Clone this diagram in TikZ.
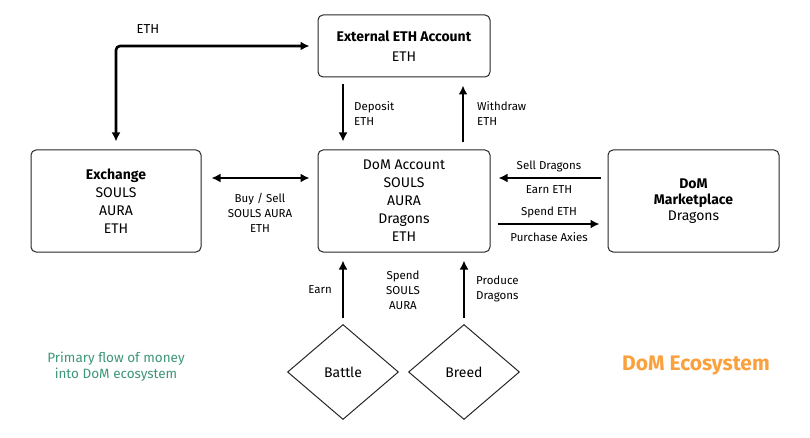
\documentclass[tikz,border=0pt]{standalone}
\usepackage{fontspec}
\setmainfont{Fira Sans}
\usetikzlibrary{arrows.meta,positioning,shapes.geometric}
\definecolor{moneygreen}{RGB}{62,150,122}
\definecolor{ecoorange}{RGB}{250,160,60}
\tikzset{
>={Latex[length=9pt,width=9pt]},
  acct/.style={
    rectangle, 
    rounded corners=5pt, 
    draw=black!85, line width=1pt,
    minimum width=172pt, 
    minimum height=102pt, 
    align=center,
    font=\fontsize{14}{18}\selectfont},
  game/.style={
    diamond,
    draw=black!85, line width=1pt,
    minimum width=111pt, 
    minimum height=95pt, 
    inner sep=0pt,
    font=\fontsize{14}{16}\selectfont},
  flow/.style={draw, line width=2.6pt, ->, shorten >=8pt, shorten <=7pt},
  lbl/.style={inner sep=0pt, font=\fontsize{11.5}{15}\selectfont},
}

\begin{document}
\begin{tikzpicture}
[x=1pt, y=-1pt]
    \useasboundingbox (0,0) rectangle (810,438);

    \node [acct, minimum height=62pt](extacc) at (404,46){\textbf{External ETH Account}\\[2pt]ETH};
	\node [acct, minimum width=170pt](exch) at (116,201){\textbf{Exchange}\\SOULS\\AURA\\ETH};
	\node [acct](domacc) at (404,201){DoM Account\\SOULS\\AURA\\Dragons\\ETH};
	\node [acct, minimum width=171pt, font=\fontsize{14}{16}\selectfont](market) at (693.5,201){\textbf{DoM}\\\textbf{Marketplace}\\Dragons};
	\node [game](battle) at (343,372){Battle};
	\node [game](breed) at (464,372){Breed};

	\draw[flow, <->, rounded corners=4pt, shorten <=8pt] (extacc.west) -| (exch.north);
	\draw[flow] ([xshift=-61pt]extacc.south) -- ([xshift=-61pt]domacc.north);
	\draw[flow] ([xshift=59pt]domacc.north) -- ([xshift=59pt]extacc.south);
	\draw[flow, <->, shorten <=10pt] ([yshift=23pt]exch.east) -- ([yshift=23pt]domacc.west);
	\draw[flow] ([yshift=23pt]market.west) -- ([yshift=23pt]domacc.east);
	\draw[flow] ([yshift=-23pt]domacc.east) -- ([yshift=-23pt]market.west);
	\draw[flow, shorten <=6pt] (battle.north) -- (battle.north |- domacc.south);
	\draw[flow, shorten <=6pt] (breed.north) -- (breed.north |- domacc.south);

	\node [lbl, font=\fontsize{13}{15}\selectfont](ethlbl) at (148,29){ETH};
	\node [lbl, anchor=west, align=left](deplbl) at (354,114){Deposit\\ETH};
	\node [lbl, anchor=west, align=left](wdlbl) at (477,114){Withdraw\\ETH};
	\node [lbl, align=center](buylbl) at (260,213){Buy / Sell\\SOULS AURA\\ETH};
	\node [lbl](selllbl) at (549,166){Sell Dragons};
	\node [lbl](earnethlbl) at (549,190){Earn ETH};
	\node [lbl](spendlbl) at (549,212){Spend ETH};
	\node [lbl](purchlbl) at (549,237){Purchase Axies};
	\node [lbl, anchor=east](earnlbl) at (332,290){Earn};
	\node [lbl, align=center](soulslbl) at (403,290){Spend\\SOULS\\AURA};
	\node [lbl, anchor=west, align=left](prodlbl) at (476,289){Produce\\Dragons};

	\node [lbl, align=center, text=moneygreen, font=\fontsize{13.5}{16}\selectfont](moneylbl) at (116,367){Primary flow of money\\into DoM ecosystem};
	\node [lbl, text=ecoorange, font=\fontsize{21}{24}\selectfont\bfseries](ecolbl) at (696,366){DoM Ecosystem};

\end{tikzpicture}
\end{document}
